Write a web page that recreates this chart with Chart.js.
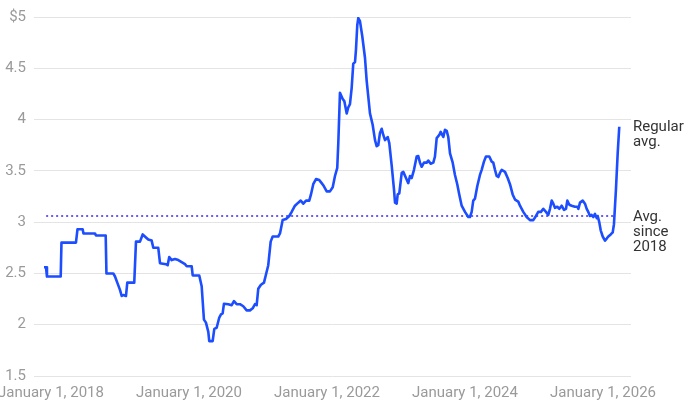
<!DOCTYPE html>
<html>
<head>
<meta charset="utf-8">
<script src="https://cdn.jsdelivr.net/npm/chart.js@4"></script>
<style>
  html, body { margin: 0; padding: 0; background: #fff; }
  #wrap { width: 690px; height: 406px; }
</style>
</head>
<body>
<div id="wrap"><canvas id="priceChart"></canvas></div>
<script>
// weekly-ish regular gas price, decimal years
const years = [
  2017.899, 2017.928, 2017.942, 2018.141, 2018.152, 2018.362, 2018.384, 2018.459, 2018.471, 2018.638,
  2018.652, 2018.793, 2018.804, 2018.903, 2018.928, 2018.961, 2019.000, 2019.025, 2019.048, 2019.087,
  2019.106, 2019.207, 2019.232, 2019.290, 2019.329, 2019.377, 2019.410, 2019.459, 2019.483, 2019.555,
  2019.580, 2019.667, 2019.691, 2019.714, 2019.749, 2019.797, 2019.845, 2019.894, 2019.942, 2019.967,
  2020.039, 2020.054, 2020.149, 2020.184, 2020.217, 2020.246, 2020.280, 2020.294, 2020.343, 2020.367,
  2020.401, 2020.439, 2020.464, 2020.488, 2020.507, 2020.570, 2020.619, 2020.652, 2020.691, 2020.739,
  2020.787, 2020.836, 2020.884, 2020.923, 2020.957, 2020.981, 2021.004, 2021.043, 2021.087, 2021.116,
  2021.149, 2021.184, 2021.213, 2021.294, 2021.319, 2021.358, 2021.406, 2021.454, 2021.488, 2021.536,
  2021.584, 2021.619, 2021.657, 2021.696, 2021.743, 2021.768, 2021.801, 2021.841, 2021.888, 2021.923,
  2021.946, 2021.996, 2022.043, 2022.083, 2022.116, 2022.149, 2022.164, 2022.188, 2022.228, 2022.251,
  2022.286, 2022.309, 2022.333, 2022.358, 2022.381, 2022.406, 2022.420, 2022.439, 2022.454, 2022.478,
  2022.512, 2022.551, 2022.575, 2022.623, 2022.662, 2022.696, 2022.720, 2022.743, 2022.768, 2022.793,
  2022.816, 2022.841, 2022.880, 2022.903, 2022.938, 2022.971, 2022.986, 2023.010, 2023.025, 2023.048,
  2023.083, 2023.106, 2023.145, 2023.178, 2023.203, 2023.227, 2023.261, 2023.300, 2023.323, 2023.348,
  2023.372, 2023.406, 2023.445, 2023.468, 2023.503, 2023.541, 2023.565, 2023.590, 2023.628, 2023.648,
  2023.686, 2023.710, 2023.735, 2023.758, 2023.783, 2023.822, 2023.855, 2023.888, 2023.917, 2023.952,
  2024.000, 2024.048, 2024.072, 2024.097, 2024.120, 2024.145, 2024.178, 2024.217, 2024.242, 2024.275,
  2024.304, 2024.352, 2024.387, 2024.410, 2024.435, 2024.459, 2024.483, 2024.507, 2024.532, 2024.580,
  2024.619, 2024.652, 2024.691, 2024.725, 2024.772, 2024.797, 2024.845, 2024.894, 2024.942, 2024.990,
  2025.029, 2025.062, 2025.101, 2025.135, 2025.174, 2025.207, 2025.232, 2025.257, 2025.280, 2025.304,
  2025.338, 2025.367, 2025.401, 2025.435, 2025.464, 2025.483, 2025.512, 2025.546, 2025.594, 2025.628,
  2025.643, 2025.667, 2025.706, 2025.739, 2025.764, 2025.787, 2025.812, 2025.836, 2025.859, 2025.884,
  2025.909, 2025.923, 2025.946, 2025.967, 2025.996, 2026.029, 2026.054, 2026.077, 2026.112, 2026.141,
  2026.159, 2026.188, 2026.213, 2026.236
];
const prices = [
  2.56, 2.56, 2.47, 2.47, 2.80, 2.80, 2.93, 2.93, 2.89, 2.89,
  2.87, 2.87, 2.50, 2.50, 2.47, 2.41, 2.34, 2.28, 2.29, 2.28,
  2.41, 2.41, 2.81, 2.81, 2.88, 2.85, 2.83, 2.82, 2.75, 2.75,
  2.60, 2.59, 2.58, 2.66, 2.63, 2.64, 2.63, 2.61, 2.59, 2.57,
  2.57, 2.48, 2.48, 2.375, 2.05, 2.02, 1.93, 1.84, 1.84, 1.96,
  1.97, 2.07, 2.10, 2.11, 2.205, 2.20, 2.19, 2.23, 2.20, 2.20,
  2.18, 2.14, 2.14, 2.16, 2.20, 2.19, 2.35, 2.39, 2.41, 2.49,
  2.58, 2.81, 2.86, 2.86, 2.89, 3.02, 3.03, 3.06, 3.10, 3.16,
  3.19, 3.21, 3.18, 3.21, 3.21, 3.27, 3.37, 3.42, 3.41, 3.38,
  3.36, 3.30, 3.30, 3.34, 3.45, 3.53, 3.77, 4.26, 4.20, 4.18,
  4.06, 4.12, 4.15, 4.31, 4.545, 4.56, 4.68, 4.92, 4.99, 4.96,
  4.81, 4.60, 4.38, 4.06, 3.95, 3.80, 3.74, 3.75, 3.87, 3.91,
  3.85, 3.80, 3.83, 3.77, 3.55, 3.32, 3.19, 3.18, 3.27, 3.28,
  3.48, 3.49, 3.43, 3.38, 3.45, 3.43, 3.51, 3.64, 3.645, 3.58,
  3.54, 3.58, 3.58, 3.60, 3.57, 3.58, 3.64, 3.82, 3.85, 3.88,
  3.83, 3.90, 3.89, 3.83, 3.67, 3.58, 3.46, 3.37, 3.27, 3.16,
  3.10, 3.05, 3.05, 3.10, 3.21, 3.23, 3.35, 3.46, 3.51, 3.59,
  3.64, 3.64, 3.59, 3.58, 3.51, 3.45, 3.44, 3.48, 3.51, 3.49,
  3.43, 3.37, 3.27, 3.22, 3.20, 3.16, 3.10, 3.05, 3.02, 3.02,
  3.06, 3.10, 3.10, 3.13, 3.10, 3.07, 3.13, 3.21, 3.18, 3.14,
  3.15, 3.13, 3.16, 3.12, 3.13, 3.21, 3.17, 3.16, 3.15, 3.15,
  3.13, 3.19, 3.21, 3.18, 3.13, 3.10, 3.06, 3.07, 3.05, 3.08,
  3.04, 3.06, 3.00, 2.92, 2.86, 2.82, 2.84, 2.86, 2.88, 2.90,
  2.98, 3.32, 3.67, 3.93
];
const avgSince2018 = 3.06;
const avgSpan = [2017.93, 2026.15];
const xTicks = [2018, 2020, 2022, 2024, 2026];
const yTicks = [1.5, 2, 2.5, 3, 3.5, 4, 4.5, 5];
const regularLabel = ['Regular', 'avg.'];
const avgLabel = ['Avg.', 'since', '2018'];

const sideLabels = {
  id: 'sideLabels',
  afterDatasetsDraw(chart) {
    const { ctx, chartArea, scales } = chart;
    ctx.save();
    ctx.font = '15px Roboto';
    ctx.fillStyle = '#333';
    ctx.textBaseline = 'middle';
    const put = (lines, value) => {
      const y0 = scales.y.getPixelForValue(value);
      lines.forEach((t, i) => ctx.fillText(t, chartArea.right + 2, y0 + i * 15));
    };
    put(regularLabel, prices[prices.length - 1]);
    put(avgLabel, avgSince2018 - 0.01);
    ctx.restore();
  }
};

new Chart(document.getElementById('priceChart'), {
  type: 'line',
  data: {
    datasets: [{
      label: 'Regular avg.',
      data: years.map((x, i) => ({ x, y: prices[i] })),
      borderColor: '#1c4dff',
      borderWidth: 2.6,
      pointRadius: 0,
      tension: 0,
      borderJoinStyle: 'round'
    }, {
      label: 'Avg. since 2018',
      data: avgSpan.map(x => ({ x, y: avgSince2018 })),
      borderColor: '#6b5cf6',
      borderWidth: 2,
      borderDash: [2, 3],
      pointRadius: 0
    }]
  },
  options: {
    responsive: true,
    maintainAspectRatio: false,
    animation: false,
    layout: { padding: { top: 13, right: 59, bottom: 0, left: 0 } },
    plugins: { legend: { display: false }, tooltip: { enabled: false } },
    scales: {
      x: {
        type: 'linear',
        min: 2017.754,
        max: 2026.406,
        afterBuildTicks: a => { a.ticks = xTicks.map(v => ({ value: v })); },
        afterFit: a => { a.height = 30; a.paddingLeft = 0; },
        grid: { display: false, drawTicks: false },
        border: { display: false },
        ticks: {
          autoSkip: false,
          maxRotation: 0,
          padding: 8,
          color: '#9a9a9a',
          font: { family: 'Roboto', size: 15 },
          callback: v => 'January 1, ' + v
        }
      },
      y: {
        min: 1.5,
        max: 5,
        afterBuildTicks: a => { a.ticks = yTicks.map(v => ({ value: v })); },
        afterFit: a => { a.width = 34; },
        grid: { color: '#e4e4e4', lineWidth: 1, drawTicks: false },
        border: { display: false },
        ticks: {
          padding: 8,
          color: '#9a9a9a',
          font: { family: 'Roboto', size: 15 },
          callback: v => (v === 5 ? '$5' : String(v))
        }
      }
    }
  },
  plugins: [sideLabels]
});
</script>
</body>
</html>
